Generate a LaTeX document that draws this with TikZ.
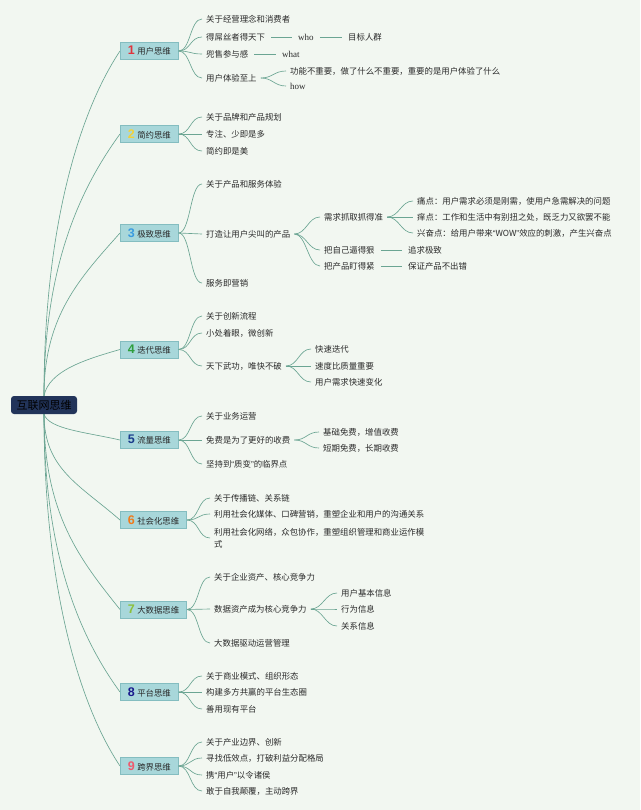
\documentclass[tikz,border=0pt]{standalone}
\usepackage{fontspec}
\setmainfont{Noto Sans CJK SC}
\newfontfamily\latinserif{Liberation Serif}
\newfontfamily\numfont{Liberation Sans}
\usetikzlibrary{calc,backgrounds}
\definecolor{bgcol}{HTML}{F2F7F1}
\definecolor{linkcol}{HTML}{6BA593}
\definecolor{boxfill}{HTML}{A8D7DA}
\definecolor{boxline}{HTML}{84BDC0}
\definecolor{rootfill}{HTML}{22345A}
\definecolor{txtcol}{HTML}{2A2A2A}
\definecolor{nA}{HTML}{E0333C}
\definecolor{nB}{HTML}{F2D13A}
\definecolor{nC}{HTML}{3A9BE0}
\definecolor{nD}{HTML}{2E9E3C}
\definecolor{nE}{HTML}{1A3C8C}
\definecolor{nF}{HTML}{F07A1A}
\definecolor{nG}{HTML}{8CC03A}
\definecolor{nH}{HTML}{1A1A8C}
\definecolor{nI}{HTML}{F05A6E}
\newcommand\topicnum[2]{{\numfont\bfseries\fontsize{12.5}{12}\selectfont\color{#1}#2}\hspace{2.5pt}}
\newcommand\quoted[1]{{\numfont“}#1{\numfont”}}
\tikzset{
  root/.style={fill=rootfill, rounded corners=3pt, minimum width=66pt, minimum height=18pt,
    inner sep=2pt, font=\fontsize{11}{12}\selectfont, text=black},
  topic/.style={anchor=west, fill=boxfill, draw=boxline, line width=0.6pt, minimum height=17pt,
    inner xsep=7.5pt, inner ysep=0pt, font=\fontsize{8.4}{10}\selectfont, text=txtcol},
  leaf/.style={anchor=west, inner xsep=4pt, inner ysep=1pt, font=\fontsize{8.4}{10}\selectfont, text=txtcol},
  word/.style={leaf, font=\latinserif\fontsize{9}{10}\selectfont},
  link/.style={draw=linkcol, line width=0.65pt},
  bar/.style={link, shorten <=2pt, shorten >=2pt}
}
\begin{document}
\begin{tikzpicture}[x=1pt,y=1pt]
  \begin{pgfonlayer}{background}
    \fill[bgcol] (0,0) rectangle (640,-810);
  \end{pgfonlayer}
  \useasboundingbox (0,0) rectangle (640,-810);

  % centre and main topics
  \node[root] (root) at (44,-405) {互联网思维};
  \node[topic] (t1) at (120,-51) {\topicnum{nA}{1}用户思维};
  \node[topic] (t2) at (120,-134) {\topicnum{nB}{2}简约思维};
  \node[topic] (t3) at (120,-233) {\topicnum{nC}{3}极致思维};
  \node[topic] (t4) at (120,-349.5) {\topicnum{nD}{4}迭代思维};
  \node[topic] (t5) at (120,-440) {\topicnum{nE}{5}流量思维};
  \node[topic] (t6) at (120,-520) {\topicnum{nF}{6}社会化思维};
  \node[topic] (t7) at (120,-609.5) {\topicnum{nG}{7}大数据思维};
  \node[topic] (t8) at (120,-692) {\topicnum{nH}{8}平台思维};
  \node[topic] (t9) at (120,-766) {\topicnum{nI}{9}跨界思维};

  \begin{pgfonlayer}{background}
    \foreach \i/\a/\u/\v/\w/\z in {1/north/0/170/-40/-60, 2/north/0/130/-40/-55, 3/north/0/80/-40/-45,
        4/north/5/25/-35/-10, 5/south/5/-15/-35/8, 6/south/0/-55/-40/35,
        7/south/0/-100/-40/50, 8/south/0/-140/-40/55, 9/south/0/-175/-40/60}
      \draw[link] (root.\a) .. controls +(\u,\v) and +(\w,\z) .. (t\i.west);
  \end{pgfonlayer}

  % 1
  \foreach \k/\y/\s in {a/19/关于经营理念和消费者,b/37/得屌丝者得天下,c/54/兜售参与感,d/78/用户体验至上}{
    \node[leaf] (t1\k) at (202,-\y) {\s};
    \draw[link] (t1.east) .. controls +(12,0) and +(-12,0) .. (t1\k.west);
  }
  \node[word] (who) at (294,-37) {who};
  \node[leaf] (crowd) at (344,-37) {目标人群};
  \draw[bar] (t1b.east) -- (who.west);
  \draw[bar] (who.east) -- (crowd.west);
  \node[word] (what) at (278,-54) {what};
  \draw[bar] (t1c.east) -- (what.west);
  \node[leaf] (feel) at (286,-71) {功能不重要，做了什么不重要，重要的是用户体验了什么};
  \node[word] (how) at (286,-86) {how};
  \foreach \n in {feel,how}
    \draw[link] (t1d.east) .. controls +(12,0) and +(-12,0) .. (\n.west);

  % 2
  \foreach \k/\y/\s in {a/117/关于品牌和产品规划,b/134/专注、少即是多,c/151/简约即是美}{
    \node[leaf] (t2\k) at (202,-\y) {\s};
    \draw[link] (t2.east) .. controls +(12,0) and +(-12,0) .. (t2\k.west);
  }

  % 3
  \foreach \k/\y/\s in {a/184/关于产品和服务体验,b/234/打造让用户尖叫的产品,c/283/服务即营销}{
    \node[leaf] (t3\k) at (202,-\y) {\s};
    \draw[link] (t3.east) .. controls +(12,0) and +(-12,0) .. (t3\k.west);
  }
  \foreach \k/\y/\s in {a/217/需求抓取抓得准,b/250/把自己逼得狠,c/266/把产品盯得紧}{
    \node[leaf] (t3b\k) at (320,-\y) {\s};
    \draw[link] (t3b.east) .. controls +(12,0) and +(-12,0) .. (t3b\k.west);
  }
  \foreach \k/\y/\s in {a/201/痛点：用户需求必须是刚需，使用户急需解决的问题,
      b/217/痒点：工作和生活中有别扭之处，既乏力又欲罢不能,
      c/233/兴奋点：给用户带来\quoted{WOW}效应的刺激，产生兴奋点}{
    \node[leaf] (t3ba\k) at (413,-\y) {\s};
    \draw[link] (t3ba.east) .. controls +(12,0) and +(-12,0) .. (t3ba\k.west);
  }
  \node[leaf] (best) at (404,-250) {追求极致};
  \draw[bar] (t3bb.east) -- (best.west);
  \node[leaf] (noerr) at (404,-266) {保证产品不出错};
  \draw[bar] (t3bc.east) -- (noerr.west);

  % 4
  \foreach \k/\y/\s in {a/316/关于创新流程,b/333/小处着眼，微创新,c/366/天下武功，唯快不破}{
    \node[leaf] (t4\k) at (202,-\y) {\s};
    \draw[link] (t4.east) .. controls +(12,0) and +(-12,0) .. (t4\k.west);
  }
  \foreach \k/\y/\s in {a/349/快速迭代,b/366/速度比质量重要,c/382/用户需求快速变化}{
    \node[leaf] (t4c\k) at (311,-\y) {\s};
    \draw[link] (t4c.east) .. controls +(12,0) and +(-12,0) .. (t4c\k.west);
  }

  % 5
  \foreach \k/\y/\s in {a/416/关于业务运营,b/440/免费是为了更好的收费,c/464/坚持到\quoted{质变}的临界点}{
    \node[leaf] (t5\k) at (202,-\y) {\s};
    \draw[link] (t5.east) .. controls +(12,0) and +(-12,0) .. (t5\k.west);
  }
  \foreach \k/\y/\s in {a/432/基础免费，增值收费,b/448/短期免费，长期收费}{
    \node[leaf] (t5b\k) at (319,-\y) {\s};
    \draw[link] (t5b.east) .. controls +(12,0) and +(-12,0) .. (t5b\k.west);
  }

  % 6
  \foreach \k/\y/\s in {a/498/关于传播链、关系链,b/514/利用社会化媒体、口碑营销，重塑企业和用户的沟通关系}{
    \node[leaf] (t6\k) at (210,-\y) {\s};
    \draw[link] (t6.east) .. controls +(12,0) and +(-12,0) .. (t6\k.west);
  }
  \node[leaf, align=left, font=\fontsize{8.4}{12}\selectfont] (t6c) at (210,-538)
    {利用社会化网络，众包协作，重塑组织管理和商业运作模\\式};
  \draw[link] (t6.east) .. controls +(12,0) and +(-12,0) .. (t6c.west);

  % 7
  \foreach \k/\y/\s in {a/577/关于企业资产、核心竞争力,b/609/数据资产成为核心竞争力,c/643/大数据驱动运营管理}{
    \node[leaf] (t7\k) at (210,-\y) {\s};
    \draw[link] (t7.east) .. controls +(12,0) and +(-12,0) .. (t7\k.west);
  }
  \foreach \k/\y/\s in {a/593/用户基本信息,b/609/行为信息,c/626/关系信息}{
    \node[leaf] (t7b\k) at (337,-\y) {\s};
    \draw[link] (t7b.east) .. controls +(12,0) and +(-12,0) .. (t7b\k.west);
  }

  % 8
  \foreach \k/\y/\s in {a/676/关于商业模式、组织形态,b/692/构建多方共赢的平台生态圈,c/709/善用现有平台}{
    \node[leaf] (t8\k) at (202,-\y) {\s};
    \draw[link] (t8.east) .. controls +(12,0) and +(-12,0) .. (t8\k.west);
  }

  % 9
  \foreach \k/\y/\s in {a/742/关于产业边界、创新,b/758/寻找低效点，打破利益分配格局,c/775/携\quoted{用户}以令诸侯,d/791/敢于自我颠覆，主动跨界}{
    \node[leaf] (t9\k) at (202,-\y) {\s};
    \draw[link] (t9.east) .. controls +(12,0) and +(-12,0) .. (t9\k.west);
  }
\end{tikzpicture}
\end{document}
